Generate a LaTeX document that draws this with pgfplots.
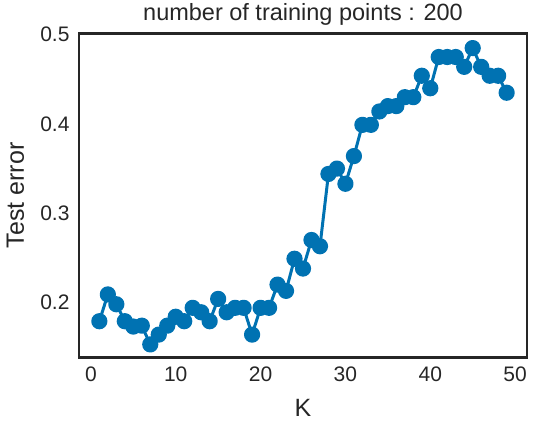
\documentclass[border=0pt]{standalone}
\usepackage{fontspec}
\setmainfont{Liberation Sans}
\usepackage{pgfplots}
\pgfplotsset{compat=1.18}
\usetikzlibrary{calc}
\definecolor{cb}{HTML}{0072B2}
\definecolor{ink}{HTML}{262626}

\begin{document}
\begin{tikzpicture}
\begin{axis}[name=ax, scale only axis, width=448pt, height=324pt,
xmin=-1.4, xmax=51.4, ymin=0.1385, ymax=0.5015,
xtick={0,10,20,30,40,50}, ytick={0.2,0.3,0.4,0.5},
major tick length=0pt,
axis line style={ink, line width=2.4pt},
tick label style={font=\fontsize{21}{24}\selectfont, text=ink},
/pgf/number format/assume math mode=true,
yticklabel style={/pgf/number format/fixed, /pgf/number format/precision=1, xshift=-6pt},
xticklabel style={yshift=-6pt},
title={number of training points : 200},
title style={font=\fontsize{23.5}{27}\selectfont, text=ink, at={(axis description cs:0.5,1)}, anchor=base, yshift=7pt},
xlabel={K}, ylabel={Test error},
label style={font=\fontsize{25}{29}\selectfont, text=ink},
xlabel style={at={(axis description cs:0.5,0)}, anchor=base, yshift=-59pt},
ylabel style={at={(axis description cs:0,0.5)}, anchor=base, yshift=55pt},
]
\addplot[cb, line width=3pt, line join=round, mark=*, mark size=6.6pt, mark options={fill=cb, draw=none}] coordinates {
(1,0.179) (2,0.209) (3,0.198) (4,0.179) (5,0.173) (6,0.174) (7,0.153) (8,0.164) (9,0.174) (10,0.184)
(11,0.179) (12,0.194) (13,0.189) (14,0.179) (15,0.204) (16,0.189) (17,0.194) (18,0.194) (19,0.164) (20,0.194)
(21,0.194) (22,0.220) (23,0.213) (24,0.249) (25,0.238) (26,0.270) (27,0.263) (28,0.344) (29,0.350) (30,0.333)
(31,0.364) (32,0.399) (33,0.399) (34,0.414) (35,0.420) (36,0.420) (37,0.430) (38,0.430) (39,0.454) (40,0.440)
(41,0.475) (42,0.475) (43,0.475) (44,0.464) (45,0.485) (46,0.464) (47,0.454) (48,0.454) (49,0.435)
};
\end{axis}
\path (ax.south west) ++(-79pt,-71pt) rectangle ($(ax.north east)+(7pt,32pt)$);
\end{tikzpicture}
\end{document}
